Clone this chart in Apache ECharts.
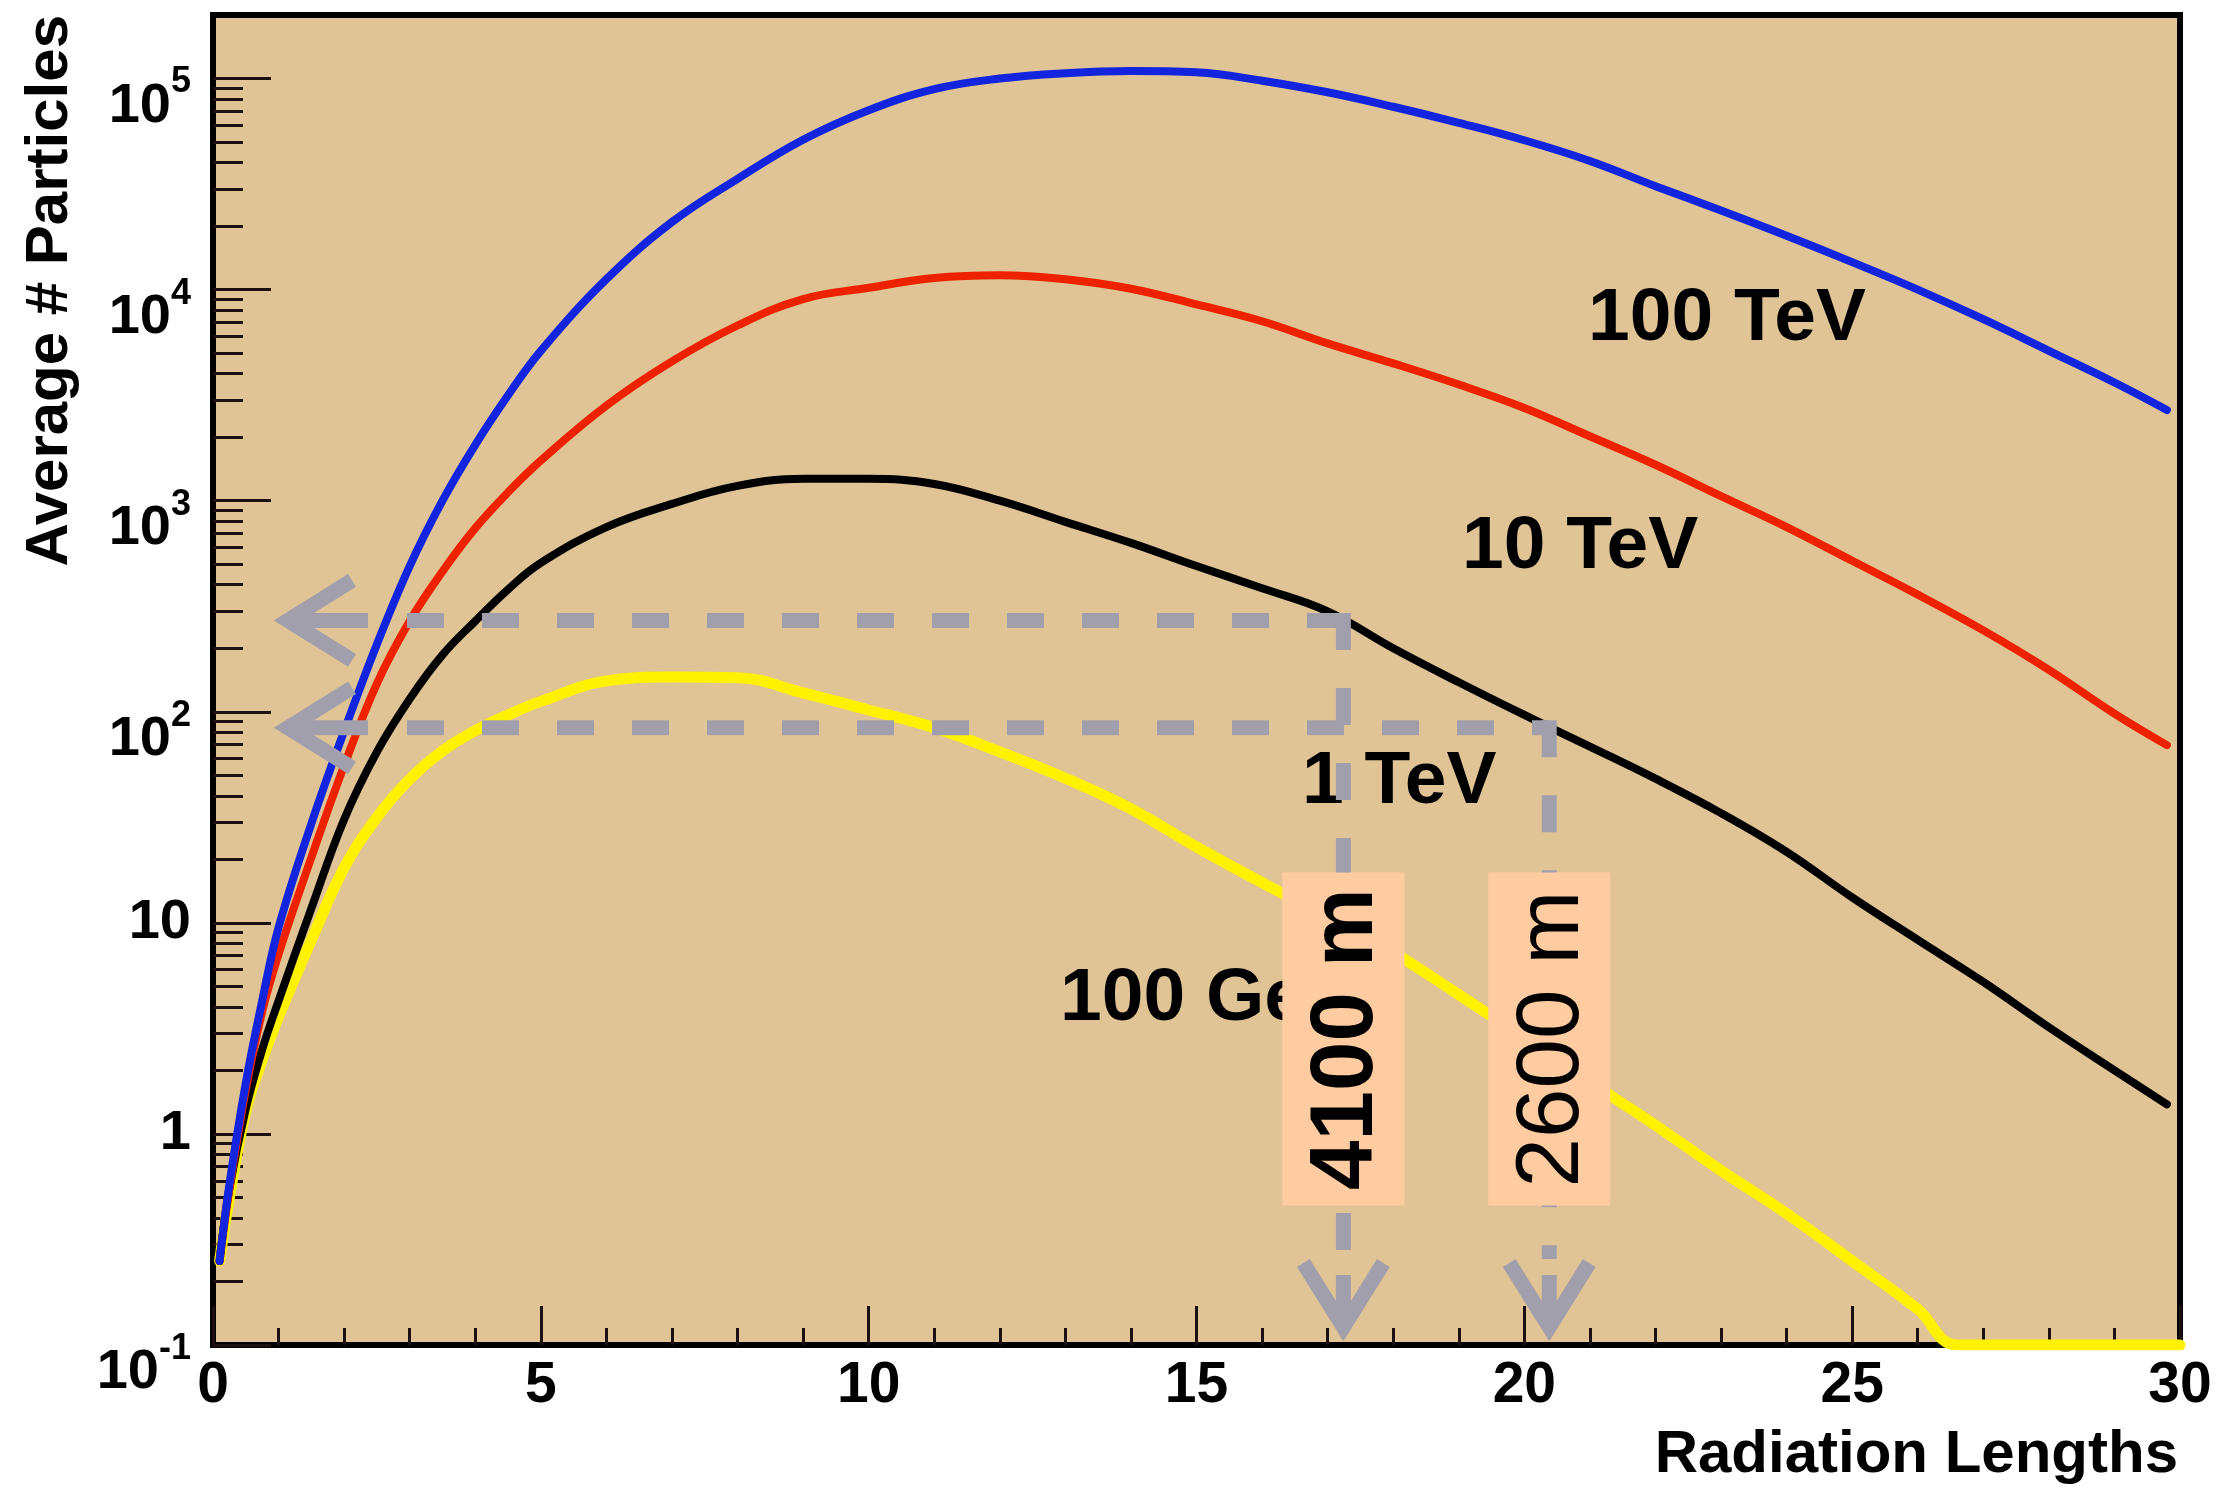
<!DOCTYPE html>
<html>
<head>
<meta charset="utf-8">
<script src="https://cdn.jsdelivr.net/npm/echarts@6/dist/echarts.min.js"></script>
<style>
  html, body { margin: 0; padding: 0; background: #ffffff; }
  #chart { width: 2225px; height: 1485px; }
</style>
</head>
<body>
<div id="chart"></div>
<script>
// Longitudinal shower profiles: mean particle count versus depth (radiation lengths)

// Depth samples shared by the TeV profiles
const depthSteps = [0.1, 0.25, 0.5, 0.75, 1, 1.5, 2, 2.5, 3, 3.5, 4, 4.5,
  5, 6, 7, 8, 9, 10, 11, 12, 13, 14, 15, 16, 17, 18, 19, 20,
  21, 22, 23, 24, 25, 26, 27, 28, 29, 29.8];

const count100TeV = [0.25, 0.575, 1.74, 4.27, 9.5, 29.5, 81, 209, 490, 1000, 1840, 3160,
  5130, 11200, 20900, 33500, 51300, 70800, 89100, 100000, 106000, 108600,
  107000, 97700, 86100, 73500, 61700, 51000, 40700, 30900, 23700, 18000,
  13500, 10000, 7240, 5130, 3630, 2690];

const count10TeV = [0.25, 0.55, 1.62, 3.8, 7.1, 20.4, 55.6, 136, 269, 462, 741, 1096,
  1550, 2820, 4570, 6760, 9020, 10200, 11350, 11700, 11200, 10100,
  8510, 7080, 5560, 4470, 3550, 2750, 2020, 1480, 1050, 750,
  519, 359, 243, 158, 98, 69.5];

const count1TeV = [0.25, 0.55, 1.32, 2.51, 4.27, 11.7, 30.9, 64.6, 115, 186, 269, 380,
  507, 750, 966, 1175, 1270, 1270, 1200, 1000, 794, 631,
  490, 385, 299, 200, 138, 96.6, 68.4, 48.2, 33.1, 21.7,
  13.2, 8.3, 5.25, 3.2, 2.0, 1.38];

// 100 GeV profile drops under the axis floor near 26.6 X0
const depth100GeV = [0.1, 0.25, 0.5, 0.75, 1, 1.5, 2, 2.5, 3, 3.5, 4, 4.5,
  5, 6, 7, 8, 9, 10, 11, 12, 13, 14, 15, 16, 17, 18, 19, 20,
  21, 22, 23, 24, 25, 26, 26.6, 30];
const count100GeV = [0.25, 0.5, 1.28, 2.24, 3.59, 8.3, 18.2, 31.6, 47.9, 65.3, 81.3, 96.6,
  112, 140, 146, 145, 123, 102, 84, 64.6, 48.4, 34.7,
  22.9, 15.5, 10.7, 7.24, 4.57, 2.85, 1.76, 1.10, 0.67, 0.42,
  0.25, 0.148, 0.1, 0.1];

// Axis ticks
const depthTicks = [0, 5, 10, 15, 20, 25, 30];
const decadeTicks = [0.1, 1, 10, 100, 1000, 10000, 100000];
const subDecadeTicks = [];
for (let e = -1; e <= 4; e++) {
  for (let m = 2; m <= 9; m++) subDecadeTicks.push(m * Math.pow(10, e));
}

// Read-off guides: observation depth and particle count for a 1 TeV shower
const markDepths = [17.24, 20.38];
const markCounts = [271, 84];
const markAltitudes = ['4100 m', '2600 m'];
const altitudeWeights = ['bold', 'normal'];

const FONT = '"Liberation Sans", Arial, Helvetica, sans-serif';
const GUIDE = '#A19FAB';
const TICK = '#1c1010';

function pairs(xs, ys) { return xs.map((x, i) => [x, ys[i]]); }

function curve(name, xs, ys, color, width) {
  return {
    type: 'line', name: name, data: pairs(xs, ys),
    smooth: 0.4, showSymbol: false, symbol: 'none',
    lineStyle: { color: color, width: width, cap: 'round', join: 'round' },
    z: 3, silent: true, animation: false
  };
}

function decadeLabel(v) {
  const e = Math.round(Math.log10(v));
  if (e === 0) return '{n|1}';
  if (e === 1) return '{n|10}';
  return '{b|10}{s|' + e + '}';
}

const chart = echarts.init(document.getElementById('chart'), null, { renderer: 'canvas' });

chart.setOption({
  animation: false,
  backgroundColor: '#ffffff',
  grid: {
    left: 213, right: 45, top: 15, bottom: 140,
    show: true, backgroundColor: '#E0C496', borderColor: '#000000', borderWidth: 6,
    containLabel: false, outerBoundsMode: 'none'
  },
  xAxis: {
    type: 'value', min: 0, max: 30, interval: 5,
    axisLine: { show: false },
    axisTick: { show: true, inside: true, length: 39, lineStyle: { color: TICK, width: 3 } },
    minorTick: { show: true, splitNumber: 5, length: 17, lineStyle: { color: TICK, width: 3 } },
    splitLine: { show: false },
    axisLabel: {
      show: true, margin: 13, showMinLabel: true, showMaxLabel: true,
      fontSize: 57, fontWeight: 'bold', fontFamily: FONT, color: '#000',
      formatter: v => String(v)
    }
  },
  yAxis: [
    {
      type: 'log', logBase: 10, min: 0.1, max: 200000, position: 'left',
      axisLine: { show: false },
      splitLine: { show: false },
      axisTick: { show: true, inside: true, length: 58, customValues: decadeTicks, lineStyle: { color: TICK, width: 3 } },
      axisLabel: {
        show: true, margin: 22, customValues: decadeTicks,
        formatter: decadeLabel,
        rich: {
          n: { fontSize: 56, fontWeight: 'bold', fontFamily: FONT, color: '#000' },
          b: { fontSize: 56, lineHeight: 56, fontWeight: 'bold', fontFamily: FONT, color: '#000', padding: [28, 0, 0, 0], verticalAlign: 'top' },
          s: { fontSize: 36, lineHeight: 36, fontWeight: 'bold', fontFamily: FONT, color: '#000', padding: [14, 0, 0, 0], verticalAlign: 'top' }
        }
      }
    },
    {
      type: 'log', logBase: 10, min: 0.1, max: 200000, position: 'left',
      axisLine: { show: false },
      splitLine: { show: false },
      axisLabel: { show: false },
      axisTick: { show: true, inside: true, length: 30, customValues: subDecadeTicks, lineStyle: { color: TICK, width: 3 } }
    }
  ],
  graphic: [
    {
      type: 'text', x: 2178, y: 1455, z: 5, silent: true,
      style: { text: 'Radiation Lengths', fontSize: 60, fontWeight: 'bold', fontFamily: FONT, fill: '#000', align: 'right', verticalAlign: 'middle' }
    },
    {
      type: 'text', x: 50, y: 15, rotation: Math.PI / 2, z: 5, silent: true,
      style: { text: 'Average # Particles', fontSize: 60, fontWeight: 'bold', fontFamily: FONT, fill: '#000', align: 'right', verticalAlign: 'middle' }
    },
    {
      type: 'text', x: 1588, y: 319, z: 5, silent: true,
      style: { text: '100 TeV', fontSize: 75, fontWeight: 'bold', fontFamily: FONT, fill: '#000', align: 'left', verticalAlign: 'middle' }
    },
    {
      type: 'text', x: 1462, y: 547, z: 5, silent: true,
      style: { text: '10 TeV', fontSize: 75, fontWeight: 'bold', fontFamily: FONT, fill: '#000', align: 'left', verticalAlign: 'middle' }
    },
    {
      type: 'text', x: 1302, y: 782, z: 5, silent: true,
      style: { text: '1 TeV', fontSize: 75, fontWeight: 'bold', fontFamily: FONT, fill: '#000', align: 'left', verticalAlign: 'middle' }
    },
    {
      type: 'text', x: 1060, y: 999, z: 5, silent: true,
      style: { text: '100 GeV', fontSize: 75, fontWeight: 'bold', fontFamily: FONT, fill: '#000', align: 'left', verticalAlign: 'middle' }
    }
  ],
  series: [
    curve('100 GeV', depth100GeV, count100GeV, '#FFF200', 11),
    curve('1 TeV', depthSteps, count1TeV, '#000000', 8),
    curve('10 TeV', depthSteps, count10TeV, '#EE2200', 8),
    curve('100 TeV', depthSteps, count100TeV, '#1224DE', 8),
    {
      type: 'custom', name: 'guides', coordinateSystem: 'cartesian2d', clip: false, silent: true, z: 10,
      data: pairs(markDepths, markCounts),
      renderItem: function (params, api) {
        const i = params.dataIndex;
        const corner = api.coord([api.value(0), api.value(1)]);
        const cx = corner[0], cy = corner[1];
        const cs = params.coordSys;
        const left = cs.x, bottom = cs.y + cs.height;
        const w = 15, armL = 64, armH = 40;
        const stroke = { stroke: GUIDE, lineWidth: w, fill: 'none' };
        const dashed = { stroke: GUIDE, lineWidth: w, lineDash: [37, 38], fill: 'none' };
        const hTip = left + 75, vTip = bottom - 18;
        const boxW = 122, boxH = 333, boxCy = bottom - 306;
        return {
          type: 'group',
          children: [
            { type: 'line', shape: { x1: left + 194, y1: cy, x2: cx, y2: cy }, style: dashed },
            { type: 'line', shape: { x1: cx, y1: cy - w / 2, x2: cx, y2: bottom - 86 }, style: dashed },
            { type: 'line', shape: { x1: hTip, y1: cy, x2: left + 155, y2: cy }, style: stroke },
            { type: 'line', shape: { x1: cx, y1: bottom - 70, x2: cx, y2: vTip }, style: stroke },
            { type: 'polyline', shape: { points: [[hTip + armL, cy - armH], [hTip, cy], [hTip + armL, cy + armH]] },
              style: Object.assign({ lineJoin: 'miter' }, stroke) },
            { type: 'polyline', shape: { points: [[cx - armH, vTip - armL], [cx, vTip], [cx + armH, vTip - armL]] },
              style: Object.assign({ lineJoin: 'miter' }, stroke) },
            { type: 'rect', shape: { x: cx - boxW / 2, y: boxCy - boxH / 2, width: boxW, height: boxH },
              style: { fill: '#FFCBA0' } },
            { type: 'text', x: cx + 4, y: boxCy, rotation: Math.PI / 2,
              style: { text: markAltitudes[i], fontSize: 89, fontWeight: altitudeWeights[i], fontFamily: FONT,
                       fill: '#000', align: 'center', verticalAlign: 'middle' } }
          ]
        };
      }
    }
  ]
});
</script>
</body>
</html>
